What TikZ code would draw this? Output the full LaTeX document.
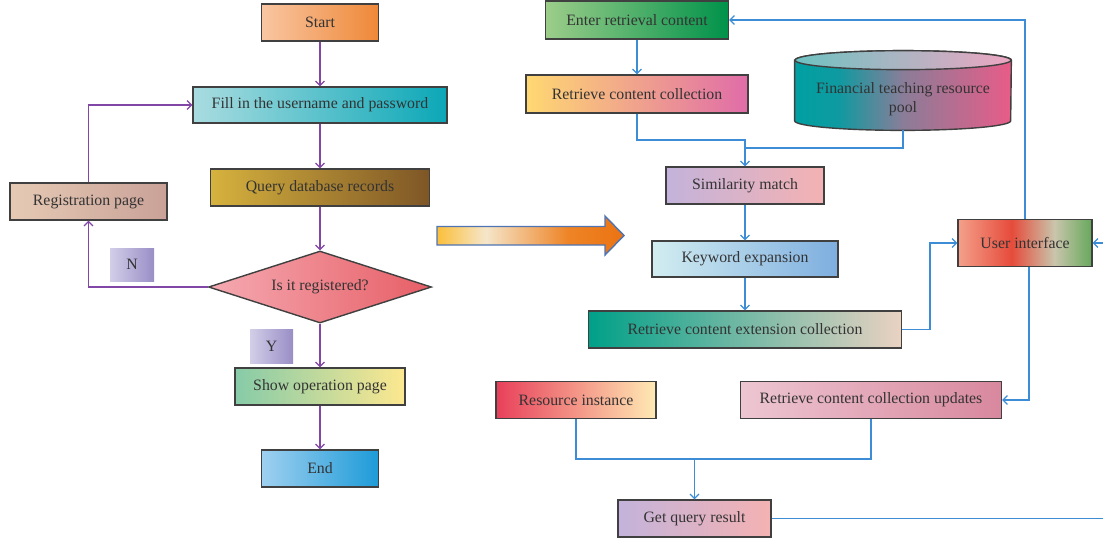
\documentclass[tikz,border=0pt]{standalone}
\usepackage{fontspec}
\setmainfont{Liberation Serif}
\usetikzlibrary{shapes.geometric,arrows.meta,backgrounds}

\definecolor{startL}{HTML}{F9C6A2}
\definecolor{startR}{HTML}{EE8838}
\definecolor{fillL}{HTML}{A9DCE0}
\definecolor{fillR}{HTML}{0BA7B7}
\definecolor{queryL}{HTML}{D6B23E}
\definecolor{queryR}{HTML}{7E5626}
\definecolor{regL}{HTML}{E6CAB4}
\definecolor{regR}{HTML}{C9A198}
\definecolor{tagL}{HTML}{D2CEE8}
\definecolor{tagR}{HTML}{9A8EC6}
\definecolor{diaL}{HTML}{F5AAB2}
\definecolor{diaR}{HTML}{E75E66}
\definecolor{showL}{HTML}{86CBA8}
\definecolor{showM}{HTML}{D9E09E}
\definecolor{showR}{HTML}{FDE890}
\definecolor{endL}{HTML}{9FD0F0}
\definecolor{endR}{HTML}{1D9BD8}
\definecolor{enterL}{HTML}{9CCD8A}
\definecolor{enterM}{HTML}{50B46C}
\definecolor{enterR}{HTML}{00924A}
\definecolor{retrL}{HTML}{FFD872}
\definecolor{retrM}{HTML}{F5A6A0}
\definecolor{retrR}{HTML}{E06CA8}
\definecolor{simL}{HTML}{C3B3DB}
\definecolor{simM}{HTML}{F1B9D9}
\definecolor{simR}{HTML}{F4B2B2}
\definecolor{keyL}{HTML}{D2EDF1}
\definecolor{keyR}{HTML}{7EAEDF}
\definecolor{extL}{HTML}{00A088}
\definecolor{extM}{HTML}{8CC6A6}
\definecolor{extR}{HTML}{EAD2C2}
\definecolor{resL}{HTML}{E8405A}
\definecolor{resM}{HTML}{F4A082}
\definecolor{resR}{HTML}{FFEAB4}
\definecolor{updL}{HTML}{EDC6D2}
\definecolor{updR}{HTML}{D8889E}
\definecolor{uiA}{HTML}{F3A08A}
\definecolor{uiB}{HTML}{E64B3B}
\definecolor{uiC}{HTML}{C9C5AC}
\definecolor{uiD}{HTML}{66A85C}
\definecolor{arrA}{HTML}{FBBF3A}
\definecolor{arrB}{HTML}{F5E6CA}
\definecolor{arrC}{HTML}{EE8426}
\definecolor{arrD}{HTML}{EB7312}
\definecolor{arredge}{HTML}{4E74B4}
\definecolor{poolA}{HTML}{00A0A2}
\definecolor{poolB}{HTML}{0E9AA0}
\definecolor{poolC}{HTML}{8A7D98}
\definecolor{poolD}{HTML}{E85C88}
\definecolor{poolTL}{HTML}{6EC2C2}
\definecolor{poolTM}{HTML}{C0B8CA}
\definecolor{poolTR}{HTML}{EEA6C2}
\definecolor{purpleline}{HTML}{8246A6}
\definecolor{blueline}{HTML}{3C8CD6}

\pgfdeclarehorizontalshading{uishade}{100bp}{color(0bp)=(uiA); color(25bp)=(uiA); color(45bp)=(uiB); color(61bp)=(uiC); color(75bp)=(uiD); color(100bp)=(uiD)}
\pgfdeclarehorizontalshading{arrowshade}{100bp}{color(0bp)=(arrA); color(25bp)=(arrA); color(38bp)=(arrB); color(60bp)=(arrC); color(75bp)=(arrD); color(100bp)=(arrD)}
\pgfdeclarehorizontalshading{poolshade}{100bp}{color(0bp)=(poolA); color(25bp)=(poolA); color(35bp)=(poolB); color(50bp)=(poolC); color(75bp)=(poolD); color(100bp)=(poolD)}

\begin{document}
\begin{tikzpicture}[
    every node/.style={font=\fontsize{9}{11}\selectfont, text=black!80},
    box/.style={draw=black!75, line width=0.8pt, minimum height=0.74cm, inner sep=2pt},
    tag/.style={minimum width=0.88cm, minimum height=0.66cm, left color=tagL, right color=tagR},
    lflow/.style={-{Straight Barb[length=2.5pt,width=5pt]}, draw=purpleline, line width=0.7pt},
    rflow/.style={-{Straight Barb[length=2.5pt,width=5pt]}, draw=blueline, line width=0.7pt}]
        \useasboundingbox (0,0) rectangle (22.06,-10.84);

        % login side
        \node(start) at (6.40,-0.45) [box, minimum width=2.34cm, left color=startL, right color=startR]{Start};
        \node(fill) at (6.40,-2.10) [box, minimum width=5.08cm, minimum height=0.72cm, left color=fillL, right color=fillR]{Fill in the username and password};
        \node(query) at (6.40,-3.75) [box, minimum width=4.38cm, left color=queryL, right color=queryR]{Query database records};
        \node(reg) at (1.77,-4.03) [box, minimum width=3.14cm, left color=regL, right color=regR]{Registration page};
        \node(dia) at (6.40,-5.74) [diamond, aspect=3, inner sep=1pt, draw=black!75, line width=0.8pt, minimum width=4.46cm, minimum height=1.44cm, left color=diaL, right color=diaR]{Is it registered?};
        \node(no) at (2.64,-5.29) [tag]{N};
        \node(yes) at (5.43,-6.92) [tag, minimum width=0.86cm, minimum height=0.68cm]{Y};
        \node(show) at (6.40,-7.73) [box, minimum width=3.40cm, left color=showL, middle color=showM, right color=showR]{Show operation page};
        \node(finish) at (6.40,-9.37) [box, minimum width=2.34cm, left color=endL, right color=endR]{End};

        \draw[lflow] (start) -- (fill);
        \draw[lflow] (fill) -- (query);
        \draw[lflow] (query) -- (dia);
        \draw[lflow] (dia) -- (show);
        \draw[lflow] (show) -- (finish);
        \draw[lflow] (dia.west) -| (reg);
        \draw[lflow] (reg) |- (fill);

        % big arrow
        \shade[shading=arrowshade, draw=arredge, line width=0.8pt] (8.74,-4.53) -- (12.10,-4.53) -- (12.10,-4.32) -- (12.48,-4.71) -- (12.10,-5.10) -- (12.10,-4.90) -- (8.74,-4.90) -- cycle;

        % retrieval side
        \node(enter) at (12.74,-0.40) [box, minimum width=3.66cm, minimum height=0.76cm, left color=enterL, middle color=enterM, right color=enterR]{Enter retrieval content};
        \node(retr) at (12.74,-1.88) [box, minimum width=4.44cm, minimum height=0.76cm, left color=retrL, middle color=retrM, right color=retrR]{Retrieve content collection};
        \node(pool) at (18.06,-1.81) [minimum width=4.32cm, minimum height=1.58cm, align=center, inner sep=0pt]{\rule{0pt}{5.6mm}Financial teaching resource\\pool};
        \node(sim) at (14.90,-3.71) [box, minimum width=3.16cm, left color=simL, middle color=simM, right color=simR]{Similarity match};
        \node(key) at (14.90,-5.18) [box, minimum width=3.72cm, minimum height=0.72cm, left color=keyL, right color=keyR]{Keyword expansion};
        \node(ext) at (14.90,-6.59) [box, minimum width=6.26cm, left color=extL, middle color=extM, right color=extR]{Retrieve content extension collection};
        \node(ui) at (20.50,-4.86) [box, minimum width=2.68cm, minimum height=0.94cm, shading=uishade]{User interface};
        \node(res) at (11.52,-8.00) [box, minimum width=3.20cm, left color=resL, middle color=resM, right color=resR]{Resource instance};
        \node(upd) at (17.42,-8.00) [box, minimum width=5.22cm, left color=updL, right color=updR]{Retrieve content collection updates};
        \node(get) at (13.89,-10.37) [box, minimum width=3.06cm, left color=simL, middle color=simM, right color=simR]{Get query result};

        \begin{scope}[on background layer]
            \shade[shading=poolshade, draw=black!75, line width=0.8pt] ([yshift=-1.9mm]pool.north west) -- ([yshift=1.9mm]pool.south west) arc[start angle=180, end angle=360, x radius=2.16cm, y radius=1.9mm] -- ([yshift=-1.9mm]pool.north east) arc[start angle=0, end angle=180, x radius=2.16cm, y radius=1.9mm] -- cycle;
            \shade[left color=poolTL, middle color=poolTM, right color=poolTR, draw=black!75, line width=0.8pt] ([yshift=-1.9mm]pool.north) ellipse [x radius=2.16cm, y radius=1.9mm];
        \end{scope}

        \coordinate(j1) at (14.90,-2.80);
        \coordinate(j2) at (14.90,-2.96);
        \coordinate(j3) at (18.60,-6.59);
        \coordinate(j4) at (13.89,-9.18);
        \coordinate(rim) at (22.30,0);

        \draw[rflow] (enter) -- (retr);
        \draw[rflow] (retr) |- (j1) -- (sim);
        \draw[blueline, line width=0.7pt] (pool) |- (j2);
        \draw[rflow] (sim) -- (key);
        \draw[rflow] (key) -- (ext);
        \draw[rflow] (ext) -- (j3) |- (ui);
        \draw[rflow] (ui) |- (enter);
        \draw[rflow] ([xshift=0.8mm]ui.south) |- (upd);
        \draw[blueline, line width=0.7pt] (res) |- (j4) -| (upd);
        \draw[rflow] (j4) -- (get);
        \draw[rflow] (get) -- (get -| rim) |- (ui);

    \end{tikzpicture}
\end{document}
